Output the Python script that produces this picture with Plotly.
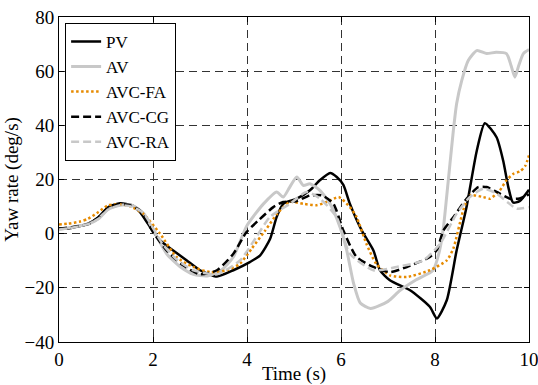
import plotly.graph_objects as go

# Yaw rate responses of the five vehicle configurations
t_pv = [0, 0.13, 0.45, 0.62, 0.84, 1.05, 1.3, 1.55, 1.72, 1.94, 2.15, 2.43, 2.72, 3.0, 3.36, 3.71,
        4.06, 4.28, 4.49, 4.63, 4.77, 5.06, 5.34, 5.55, 5.77, 5.91, 6.05, 6.19, 6.44, 6.69, 6.83,
        7.04, 7.47, 7.89, 8.04, 8.25, 8.46, 8.67, 8.89, 9.06, 9.31, 9.45, 9.56, 9.66, 9.8, 10.0]
v_pv = [2.0, 1.8, 2.8, 3.7, 6.1, 9.8, 11.2, 10.5, 8.0, 2.4, -2.5, -6.2, -9.9, -13.5, -15.8, -13.5,
        -10.5, -8.0, -2.0, 6.1, 11.0, 12.9, 16.0, 19.7, 22.4, 20.9, 18.0, 11.0, 1.2, -6.2, -13.5,
        -17.2, -20.9, -27.0, -31.3, -24.6, -6.2, 9.8, 30.7, 40.8, 35.6, 27.0, 17.2, 11.5, 12.0, 16.2]

t_av = [0, 0.3, 0.62, 0.84, 1.05, 1.3, 1.55, 1.8, 2.0, 2.29, 2.6, 2.86, 3.15, 3.45, 3.71, 4.0,
        4.35, 4.63, 4.77, 4.91, 5.06, 5.2, 5.34, 5.55, 5.77, 5.98, 6.12, 6.27, 6.41, 6.63, 7.0,
        7.26, 7.6, 7.96, 8.1, 8.18, 8.25, 8.39, 8.46, 8.57, 8.71, 8.89, 9.1, 9.3, 9.52, 9.62,
        9.7, 9.78, 9.88, 10.0]
v_av = [1.5, 2.5, 3.5, 5.5, 9.0, 10.5, 10.5, 7.5, 1.5, -7.4, -12.5, -15.0, -15.6, -13.5, -8.6, 3.0,
        11.0, 15.4, 13.5, 17.2, 20.9, 17.8, 18.4, 16.0, 11.0, 2.4, -6.0, -18.5, -25.6, -27.6, -25.0,
        -20.9, -17.0, -13.5, -6.0, 2.4, 14.0, 38.0, 48.0, 56.6, 64.0, 67.6, 66.5, 67.0, 66.5, 62.0,
        57.8, 62.0, 66.5, 68.0]

t_fa = [0, 0.2, 0.45, 0.62, 0.84, 1.05, 1.3, 1.5, 1.79, 2.15, 2.5, 2.86, 3.22, 3.57, 3.85, 4.1,
        4.38, 4.65, 4.91, 5.2, 5.48, 5.7, 5.95, 6.19, 6.33, 6.54, 6.75, 7.04, 7.4, 7.89, 8.25,
        8.39, 8.6, 8.74, 9.03, 9.17, 9.38, 9.52, 9.67, 9.81, 9.92, 10.0]
v_fa = [3.4, 3.7, 4.5, 5.5, 8.0, 10.5, 10.8, 10.2, 7.4, 0.0, -8.6, -12.3, -14.2, -13.5, -11.1, -5.5,
        1.0, 7.5, 11.7, 11.0, 10.5, 11.7, 13.5, 9.8, 6.2, -3.7, -11.1, -15.4, -16.0, -13.5, -9.9,
        -5.5, 8.6, 14.1, 13.5, 12.9, 16.0, 19.7, 22.1, 23.0, 25.0, 28.9]

t_cg = [0, 0.3, 0.62, 0.84, 1.05, 1.3, 1.5, 1.72, 2.0, 2.29, 2.64, 3.0, 3.36, 3.71, 3.99, 4.25,
        4.56, 4.77, 5.05, 5.34, 5.6, 5.84, 6.05, 6.33, 6.69, 7.04, 7.4, 7.89, 8.04, 8.18, 8.39,
        8.67, 8.92, 9.1, 9.31, 9.6, 9.8, 10.0]
v_cg = [1.8, 2.5, 3.5, 6.0, 9.5, 11.0, 10.5, 8.6, 0.6, -6.2, -11.7, -15.0, -13.5, -7.4, 0.6, 5.0,
        9.8, 11.7, 12.0, 14.1, 14.1, 11.0, 1.2, -8.6, -12.3, -14.2, -12.3, -8.6, -6.0, 1.2, 6.1,
        12.9, 17.2, 17.2, 15.4, 12.9, 13.0, 14.5]

t_ra = [0, 0.3, 0.62, 0.84, 1.05, 1.3, 1.55, 1.8, 2.2, 2.5, 2.86, 3.36, 3.85, 4.2, 4.49, 4.91,
        5.27, 5.55, 5.91, 6.19, 6.69, 7.18, 7.75, 8.11, 8.46, 8.74, 9.03, 9.31, 9.55, 9.74, 10.0]
v_ra = [1.5, 2.3, 3.5, 5.5, 9.0, 10.5, 10.0, 7.5, -3.7, -9.5, -13.5, -15.0, -9.9, -1.2, 6.2, 11.0,
        15.4, 13.0, 6.0, -7.4, -13.5, -12.3, -9.9, -3.7, 7.4, 13.5, 16.6, 14.8, 11.5, 9.2, 9.8]

series = [
    ("PV", t_pv, v_pv, dict(color="#000000", width=2.5)),
    ("AV", t_av, v_av, dict(color="#c8c8c8", width=3)),
    ("AVC-FA", t_fa, v_fa, dict(color="#e68a00", width=2.5, dash="2.5px,2.5px")),
    ("AVC-CG", t_cg, v_cg, dict(color="#000000", width=2.5, dash="8px,4px")),
    ("AVC-RA", t_ra, v_ra, dict(color="#c8c8c8", width=2.5, dash="8px,4px")),
]

font_family = "Liberation Serif, Times New Roman, serif"

fig = go.Figure()
for name, t, v, line in series:
    line = dict(line, shape="spline", smoothing=0.6)
    fig.add_trace(go.Scatter(x=t, y=v, mode="lines", name=name, line=line))

axis_common = dict(
    showline=True, linecolor="black", linewidth=1, mirror="ticks",
    ticks="inside", ticklen=5, tickcolor="black", automargin=False,
    ticklabeloverflow="allow",
    showgrid=True, gridcolor="#333333", gridwidth=1, griddash="8px,5px",
    zeroline=False, tickfont=dict(family=font_family, size=19, color="black"),
)

fig.update_xaxes(range=[0, 10], dtick=2, ticklabelstandoff=0,
                 title=dict(text="Time (s)", standoff=0,
                            font=dict(family=font_family, size=19, color="black")),
                 **axis_common)
fig.update_yaxes(range=[-40, 80], dtick=20, ticklabelstandoff=0,
                 title=dict(text="Yaw rate (deg/s)", standoff=0,
                            font=dict(family=font_family, size=19, color="black")),
                 **axis_common)

fig.update_layout(
    width=538, height=385,
    margin=dict(l=59, r=9, t=17, b=43),
    paper_bgcolor="white", plot_bgcolor="white",
    font=dict(family=font_family, size=19, color="black"),
    legend=dict(x=0.013, y=0.982, xanchor="left", yanchor="top",
                bgcolor="white", bordercolor="black", borderwidth=1,
                font=dict(family=font_family, size=17, color="black"),
                tracegroupgap=0, itemwidth=30),
    showlegend=True,
)

fig.write_html("out.html")
